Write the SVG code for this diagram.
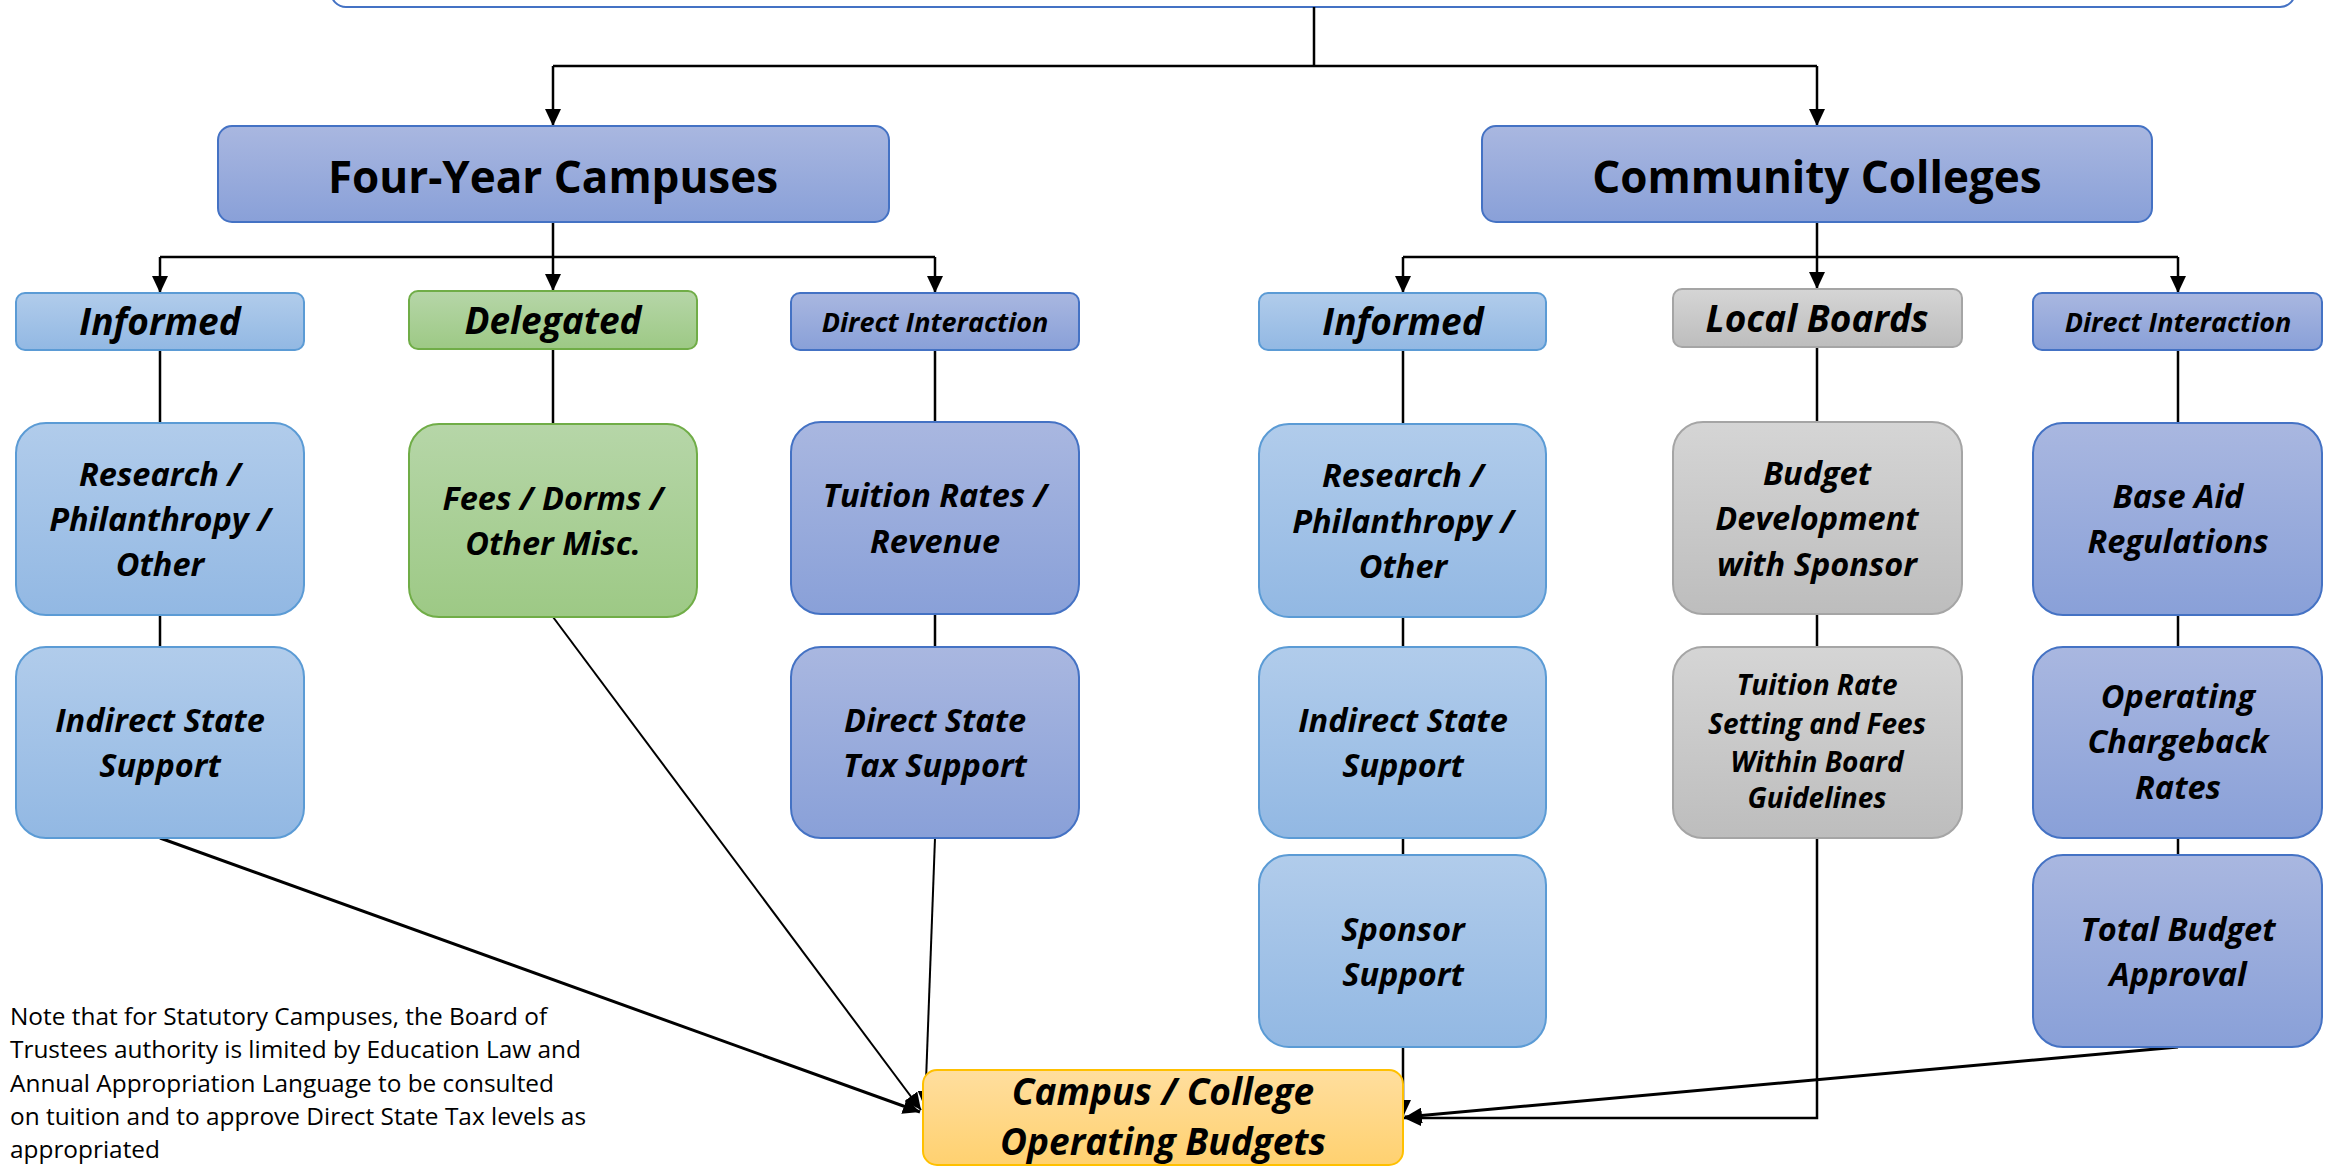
<svg xmlns="http://www.w3.org/2000/svg" width="2330" height="1168" viewBox="0 0 2330 1168">
<defs>
<linearGradient id="gBlue" x1="0" y1="0" x2="0" y2="1"><stop offset="0" stop-color="#B1CCEB"/><stop offset="1" stop-color="#92B8E3"/></linearGradient>
<linearGradient id="gPurple" x1="0" y1="0" x2="0" y2="1"><stop offset="0" stop-color="#A9B7E0"/><stop offset="1" stop-color="#89A0D8"/></linearGradient>
<linearGradient id="gGreen" x1="0" y1="0" x2="0" y2="1"><stop offset="0" stop-color="#B6D6A8"/><stop offset="1" stop-color="#9DC985"/></linearGradient>
<linearGradient id="gGray" x1="0" y1="0" x2="0" y2="1"><stop offset="0" stop-color="#D5D5D5"/><stop offset="1" stop-color="#BDBDBD"/></linearGradient>
<linearGradient id="gGold" x1="0" y1="0" x2="0" y2="1"><stop offset="0" stop-color="#FFDE9E"/><stop offset="1" stop-color="#FFD170"/></linearGradient>
<marker id="arr" markerUnits="userSpaceOnUse" markerWidth="18" markerHeight="16" refX="17" refY="8" orient="auto"><path d="M0,0 L17,8 L0,16 z" fill="#000"/></marker>
<style>
.blue{fill:url(#gBlue);stroke:#5B9BD5;stroke-width:2}
.purple{fill:url(#gPurple);stroke:#4472C4;stroke-width:2}
.green{fill:url(#gGreen);stroke:#70AD47;stroke-width:2}
.gray{fill:url(#gGray);stroke:#A5A5A5;stroke-width:2}
.gold{fill:url(#gGold);stroke:#FFC000;stroke-width:2}
.top{fill:#fff;stroke:#4472C4;stroke-width:2}
text{font-family:"Open Sans","Noto Sans","DejaVu Sans",sans-serif;fill:#000}
.t{font-weight:bold;font-style:italic;text-anchor:middle;font-size:32.5px}
.h{font-weight:bold;text-anchor:middle;font-size:44px}
.l{font-size:37px}
.s{font-size:27px}
.m{font-size:28px}
.note{font-size:24.4px}
.c{fill:none;stroke:#000;stroke-width:2.5}
.a{marker-end:url(#arr)}
</style>
</defs>

<g id="top-box"><rect class="top" x="331" y="-100" width="1964" height="107" rx="15"/></g>

<g id="connectors">
<path class="c" d="M1314,7 V66 M553,66 H1817"/>
<path class="c a" d="M553,66 V126"/>
<path class="c a" d="M1817,66 V126"/>
<path class="c" d="M553,222 V257 M160,257 H935"/>
<path class="c a" d="M160,257 V293"/>
<path class="c a" d="M553,257 V291"/>
<path class="c a" d="M935,257 V293"/>
<path class="c" d="M1817,222 V257 M1403,257 H2178"/>
<path class="c a" d="M1403,257 V293"/>
<path class="c a" d="M1817,257 V289"/>
<path class="c a" d="M2178,257 V293"/>
<path class="c" d="M160,350 V423 M160,615 V647"/>
<path class="c" d="M553,349 V424"/>
<path class="c" d="M935,350 V422 M935,614 V647"/>
<path class="c" d="M1403,350 V424 M1403,617 V647 M1403,838 V855"/>
<path class="c a" d="M1403,1047 V1117"/>
<path class="c" d="M1817,347 V422 M1817,614 V647"/>
<path class="c a" d="M1817,838 V1118 H1404"/>
<path class="c" d="M2178,350 V423 M2178,615 V647 M2178,838 V855"/>
<path class="c a" style="stroke-width:3" d="M160,838 L920,1112"/>
<path class="c a" style="stroke-width:2" d="M553,617 L921,1110"/>
<path class="c a" style="stroke-width:2" d="M935,838 L925,1108"/>
<path class="c a" style="stroke-width:3" d="M2178,1047 L1405,1117"/>
</g>

<g id="four-year-campuses"><rect class="purple" x="218" y="126" width="671" height="96" rx="14"/><text class="h" x="553" y="193">Four-Year Campuses</text></g>
<g id="community-colleges"><rect class="purple" x="1482" y="126" width="670" height="96" rx="14"/><text class="h" x="1817" y="193">Community Colleges</text></g>

<g id="informed-4yr"><rect class="blue" x="16" y="293" width="288" height="57" rx="9"/><text class="t l" x="160" y="335">Informed</text></g>
<g id="delegated"><rect class="green" x="409" y="291" width="288" height="58" rx="9"/><text class="t l" x="553" y="334">Delegated</text></g>
<g id="direct-interaction-4yr"><rect class="purple" x="791" y="293" width="288" height="57" rx="9"/><text class="t s" x="935" y="332">Direct Interaction</text></g>
<g id="informed-cc"><rect class="blue" x="1259" y="293" width="287" height="57" rx="9"/><text class="t l" x="1403" y="335">Informed</text></g>
<g id="local-boards"><rect class="gray" x="1673" y="289" width="289" height="58" rx="9"/><text class="t l" x="1817" y="332">Local Boards</text></g>
<g id="direct-interaction-cc"><rect class="purple" x="2033" y="293" width="289" height="57" rx="9"/><text class="t s" x="2178" y="332">Direct Interaction</text></g>

<g id="research-4yr"><rect class="blue" x="16" y="423" width="288" height="192" rx="30"/><text class="t" x="160" y="486">Research /</text><text class="t" x="160" y="531">Philanthropy /</text><text class="t" x="160" y="576">Other</text></g>
<g id="indirect-4yr"><rect class="blue" x="16" y="647" width="288" height="191" rx="30"/><text class="t" x="160" y="732">Indirect State</text><text class="t" x="160" y="777">Support</text></g>
<g id="fees"><rect class="green" x="409" y="424" width="288" height="193" rx="30"/><text class="t" x="553" y="510">Fees / Dorms /</text><text class="t" x="553" y="555">Other Misc.</text></g>
<g id="tuition-rates"><rect class="purple" x="791" y="422" width="288" height="192" rx="30"/><text class="t" x="935" y="507">Tuition Rates /</text><text class="t" x="935" y="553">Revenue</text></g>
<g id="direct-state"><rect class="purple" x="791" y="647" width="288" height="191" rx="30"/><text class="t" x="935" y="732">Direct State</text><text class="t" x="935" y="777">Tax Support</text></g>

<g id="research-cc"><rect class="blue" x="1259" y="424" width="287" height="193" rx="30"/><text class="t" x="1403" y="487">Research /</text><text class="t" x="1403" y="533">Philanthropy /</text><text class="t" x="1403" y="578">Other</text></g>
<g id="indirect-cc"><rect class="blue" x="1259" y="647" width="287" height="191" rx="30"/><text class="t" x="1403" y="732">Indirect State</text><text class="t" x="1403" y="777">Support</text></g>
<g id="sponsor-support"><rect class="blue" x="1259" y="855" width="287" height="192" rx="30"/><text class="t" x="1403" y="941">Sponsor</text><text class="t" x="1403" y="986">Support</text></g>
<g id="budget-development"><rect class="gray" x="1673" y="422" width="289" height="192" rx="30"/><text class="t" x="1817" y="485">Budget</text><text class="t" x="1817" y="530">Development</text><text class="t" x="1817" y="576">with Sponsor</text></g>
<g id="tuition-rate-setting"><rect class="gray" x="1673" y="647" width="289" height="191" rx="30"/><text class="t m" x="1817" y="695">Tuition Rate</text><text class="t m" x="1817" y="734">Setting and Fees</text><text class="t m" x="1817" y="772">Within Board</text><text class="t m" x="1817" y="808">Guidelines</text></g>
<g id="base-aid"><rect class="purple" x="2033" y="423" width="289" height="192" rx="30"/><text class="t" x="2178" y="508">Base Aid</text><text class="t" x="2178" y="553">Regulations</text></g>
<g id="operating-chargeback"><rect class="purple" x="2033" y="647" width="289" height="191" rx="30"/><text class="t" x="2178" y="708">Operating</text><text class="t" x="2178" y="753">Chargeback</text><text class="t" x="2178" y="799">Rates</text></g>
<g id="total-budget"><rect class="purple" x="2033" y="855" width="289" height="192" rx="30"/><text class="t" x="2178" y="941">Total Budget</text><text class="t" x="2178" y="986">Approval</text></g>

<g id="operating-budgets"><rect class="gold" x="923" y="1070" width="480" height="95" rx="14"/><text class="t l" x="1163" y="1105">Campus / College</text><text class="t l" x="1163" y="1155">Operating Budgets</text></g>

<g id="note"><text class="note" x="10" y="1025">Note that for Statutory Campuses, the Board of</text><text class="note" x="10" y="1058">Trustees authority is limited by Education Law and</text><text class="note" x="10" y="1092">Annual Appropriation Language to be consulted</text><text class="note" x="10" y="1125">on tuition and to approve Direct State Tax levels as</text><text class="note" x="10" y="1158">appropriated</text></g>
</svg>
